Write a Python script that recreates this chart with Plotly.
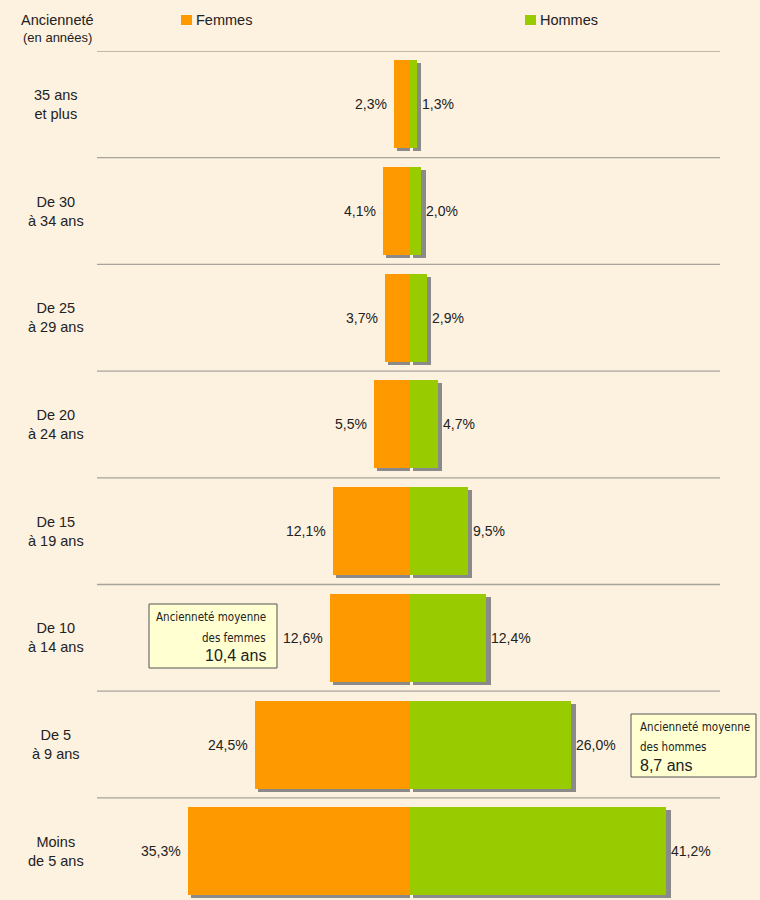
import plotly.graph_objects as go

# ---- data ----
categories = ["Moins<br>de 5 ans", "De 5<br>à 9 ans", "De 10<br>à 14 ans", "De 15<br>à 19 ans",
              "De 20<br>à 24 ans", "De 25<br>à 29 ans", "De 30<br>à 34 ans", "35 ans<br>et plus"]
femmes = [35.3, 24.5, 12.6, 12.1, 5.5, 3.7, 4.1, 2.3]
hommes = [41.2, 26.0, 12.4, 9.5, 4.7, 2.9, 2.0, 1.3]
series_names = ["Femmes", "Hommes"]
moyenne_femmes = "10,4 ans"
moyenne_hommes = "8,7 ans"

# ---- style ----
BG = "#FDF1E0"
ORANGE = "#FF9900"
GREEN = "#99CC00"
SHADOW = "#8A8A8A"
GRID = "#A8A39B"
TXT = "#222222"
FONT = "Liberation Sans, Arial, sans-serif"
NARROW = "DejaVu Sans Condensed, Liberation Sans Narrow, Arial Narrow, sans-serif"

W, H = 760, 900
ML, MR, MT, MB = 97, 40, 51, 0
PW, PH = W - ML - MR, H - MT - MB
XR = [-49.86, 49.84]
BAND = 106.7
y_top = len(categories) - 0.5
YR = [y_top - PH / BAND, y_top]
BARW = 0.825

px_per_x = PW / (XR[1] - XR[0])
dx = 3 / px_per_x
dy = 3 / BAND
gap = 1.5 / px_per_x


def pxx(p):
    return (p - ML) / PW


def pyy(p):
    return (H - MB - p) / PH


ypos = list(range(len(categories)))

fig = go.Figure()
# shadows
fig.add_trace(go.Bar(y=[y - dy for y in ypos], x=[v - dx + gap for v in femmes],
                     base=[-v + dx for v in femmes], orientation="h", width=BARW,
                     marker=dict(color=SHADOW, line=dict(width=0)), showlegend=False, hoverinfo="skip"))
fig.add_trace(go.Bar(y=[y - dy for y in ypos], x=hommes, base=[dx + gap] * len(hommes),
                     orientation="h", width=BARW,
                     marker=dict(color=SHADOW, line=dict(width=0)), showlegend=False, hoverinfo="skip"))
# bars
fig.add_trace(go.Bar(y=ypos, x=[-v for v in femmes], base=0, orientation="h", width=BARW,
                     name=series_names[0], marker=dict(color=ORANGE, line=dict(width=0)), showlegend=False))
fig.add_trace(go.Bar(y=ypos, x=hommes, base=0, orientation="h", width=BARW,
                     name=series_names[1], marker=dict(color=GREEN, line=dict(width=0)), showlegend=False))

annotations = []
shapes = []

# value labels
for y, f, h in zip(ypos, femmes, hommes):
    annotations.append(dict(x=-f, y=y, xref="x", yref="y", text=f"{f:.1f}%".replace(".", ","),
                            xanchor="right", yanchor="middle", xshift=-5, showarrow=False,
                            font=dict(size=14, color=TXT, family=FONT)))
    annotations.append(dict(x=h, y=y, xref="x", yref="y", text=f"{h:.1f}%".replace(".", ","),
                            xanchor="left", yanchor="middle", xshift=3, showarrow=False,
                            font=dict(size=14, color=TXT, family=FONT)))

# category labels
for y, c in zip(ypos, categories):
    annotations.append(dict(x=pxx(56), y=y, xref="paper", yref="y", text=c, align="center",
                            xanchor="center", yanchor="middle", showarrow=False,
                            font=dict(size=14.5, color=TXT, family=FONT)))

# grid separators
for k in range(len(categories)):
    shapes.append(dict(type="line", xref="paper", yref="y", x0=0, x1=1, y0=k + 0.5, y1=k + 0.5,
                       line=dict(color=GRID, width=1.3)))

# header
annotations.append(dict(x=pxx(58), y=pyy(20), xref="paper", yref="paper", text="Ancienneté",
                        xanchor="center", yanchor="middle", showarrow=False,
                        font=dict(size=14.5, color=TXT, family=FONT)))
annotations.append(dict(x=pxx(58), y=pyy(37), xref="paper", yref="paper", text="(en années)",
                        xanchor="center", yanchor="middle", showarrow=False,
                        font=dict(size=13, color=TXT, family=FONT)))

# legend (manual)
for x0, col, name in [(181, ORANGE, series_names[0]), (525, GREEN, series_names[1])]:
    shapes.append(dict(type="rect", xref="paper", yref="paper", x0=pxx(x0), x1=pxx(x0 + 11),
                       y0=pyy(25), y1=pyy(15), fillcolor=col, line=dict(width=0)))
    annotations.append(dict(x=pxx(x0 + 13), y=pyy(20), xref="paper", yref="paper", text=name,
                            xanchor="left", yanchor="middle", showarrow=False,
                            font=dict(size=14.5, color=TXT, family=FONT)))

# average boxes
BOXFILL = "#FFFFD2"
BOXLINE = "#555555"
NSZ = 11.5
shapes.append(dict(type="rect", xref="paper", yref="paper", x0=pxx(149), x1=pxx(277),
                   y0=pyy(668), y1=pyy(604), fillcolor=BOXFILL, line=dict(color=BOXLINE, width=1)))
for yp, t, fnt, sz in [(617, "Ancienneté moyenne", NARROW, NSZ), (638, "des femmes", NARROW, NSZ),
                       (655, moyenne_femmes, FONT, 16)]:
    annotations.append(dict(x=pxx(268), y=pyy(yp), xref="paper", yref="paper", text=t,
                            xanchor="right", yanchor="middle", showarrow=False,
                            font=dict(size=sz, color=TXT, family=fnt)))
shapes.append(dict(type="rect", xref="paper", yref="paper", x0=pxx(631), x1=pxx(756),
                   y0=pyy(777), y1=pyy(714), fillcolor=BOXFILL, line=dict(color=BOXLINE, width=1)))
for yp, t, fnt, sz in [(727, "Ancienneté moyenne", NARROW, NSZ), (747, "des hommes", NARROW, NSZ),
                       (765, moyenne_hommes, FONT, 16)]:
    annotations.append(dict(x=pxx(638), y=pyy(yp), xref="paper", yref="paper", text=t,
                            xanchor="left", yanchor="middle", showarrow=False,
                            font=dict(size=sz, color=TXT, family=fnt)))

fig.update_layout(
    width=W, height=H, margin=dict(l=ML, r=MR, t=MT, b=MB, pad=0),
    paper_bgcolor=BG, plot_bgcolor=BG, barmode="overlay", bargap=0,
    xaxis=dict(range=XR, visible=False, fixedrange=True),
    yaxis=dict(range=YR, visible=False, fixedrange=True),
    annotations=annotations, shapes=shapes, showlegend=False,
    font=dict(family=FONT, color=TXT),
)

fig.write_html("out.html", config={"displayModeBar": False},
               post_script="document.body.style.margin='0';document.body.style.overflow='hidden';")
